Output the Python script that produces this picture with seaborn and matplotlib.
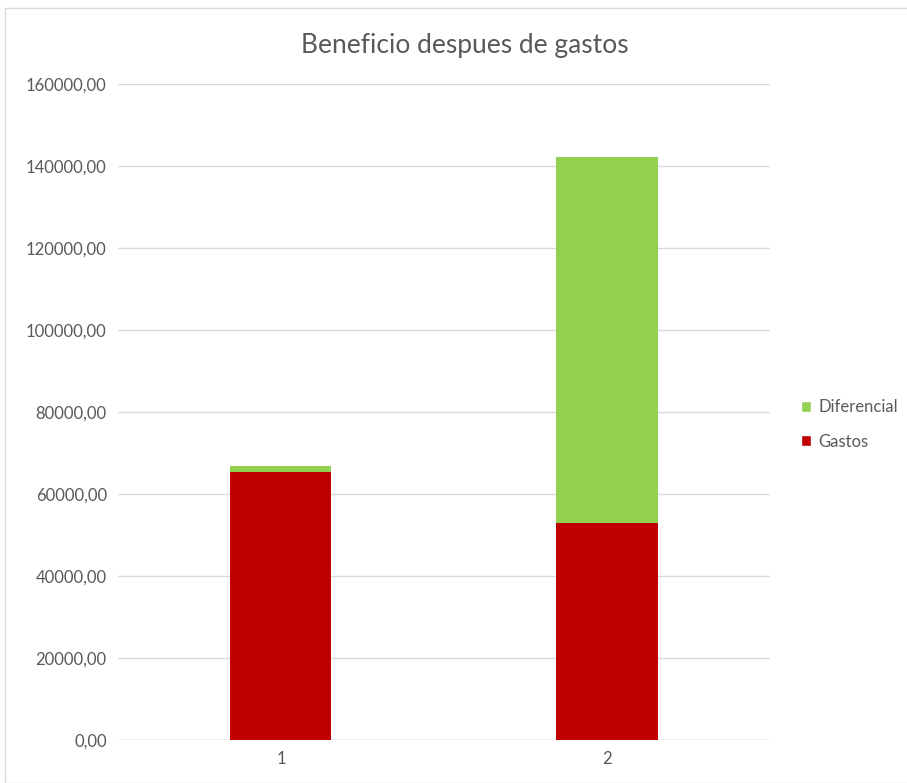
import matplotlib
matplotlib.use("Agg")
import matplotlib.pyplot as plt
from matplotlib.patches import Rectangle, Patch
from matplotlib.ticker import FuncFormatter
import numpy as np
import pandas as pd
import seaborn as sns

categorias = ["1", "2"]
gastos = [65400, 52900]
diferencial = [1400, 89300]

sns.set_style("white")
plt.rcParams['font.family'] = ['Lato', 'DejaVu Sans']

total = list(np.array(gastos) + np.array(diferencial))
df = pd.DataFrame({"cat": categorias, "Gastos": gastos, "Total": total})

fig = plt.figure(figsize=(9.07, 7.83), dpi=100)
ax = fig.add_axes([0.130, 0.0549, 0.719, 0.8378])

# stacked: total (green) behind, gastos (red) on top
sns.barplot(data=df, x="cat", y="Total", color="#92D050", width=0.31,
            saturation=1, linewidth=0, ax=ax, zorder=3)
sns.barplot(data=df, x="cat", y="Gastos", color="#C00000", width=0.31,
            saturation=1, linewidth=0, ax=ax, zorder=3)

ax.set_ylim(0, 160000)
ax.set_xlim(-0.5, 1.5)
ax.set_yticks(np.arange(0, 160001, 20000))
ax.yaxis.set_major_formatter(FuncFormatter(lambda v, p: "{:.2f}".format(v).replace(".", ",")))
ax.grid(axis="y", color="#D9D9D9", linewidth=1, zorder=0)
ax.set_axisbelow(True)
for s in ax.spines.values():
    s.set_visible(False)
ax.axhline(0, color="#D9D9D9", linewidth=1, zorder=1)
ax.tick_params(axis="both", length=0, labelsize=12, labelcolor="#595959", pad=8)
ax.set_xlabel("")
ax.set_ylabel("")

fig.text(0.512, 0.942, "Beneficio despues de gastos", ha="center", va="center",
         fontsize=19, color="#595959")

handles = [Patch(facecolor="#92D050", label="Diferencial"),
           Patch(facecolor="#C00000", label="Gastos")]
fig.legend(handles=handles, loc="center left", bbox_to_anchor=(0.867, 0.458),
           frameon=False, fontsize=12, labelcolor="#595959",
           handlelength=0.6, handleheight=0.6, handletextpad=0.4, labelspacing=1.1)

fig.patches.append(Rectangle((0.006, 0.0), 1.0, 0.99, transform=fig.transFigure,
                             fill=False, edgecolor="#D9D9D9", linewidth=1))

fig.savefig("out.png", dpi=100)
